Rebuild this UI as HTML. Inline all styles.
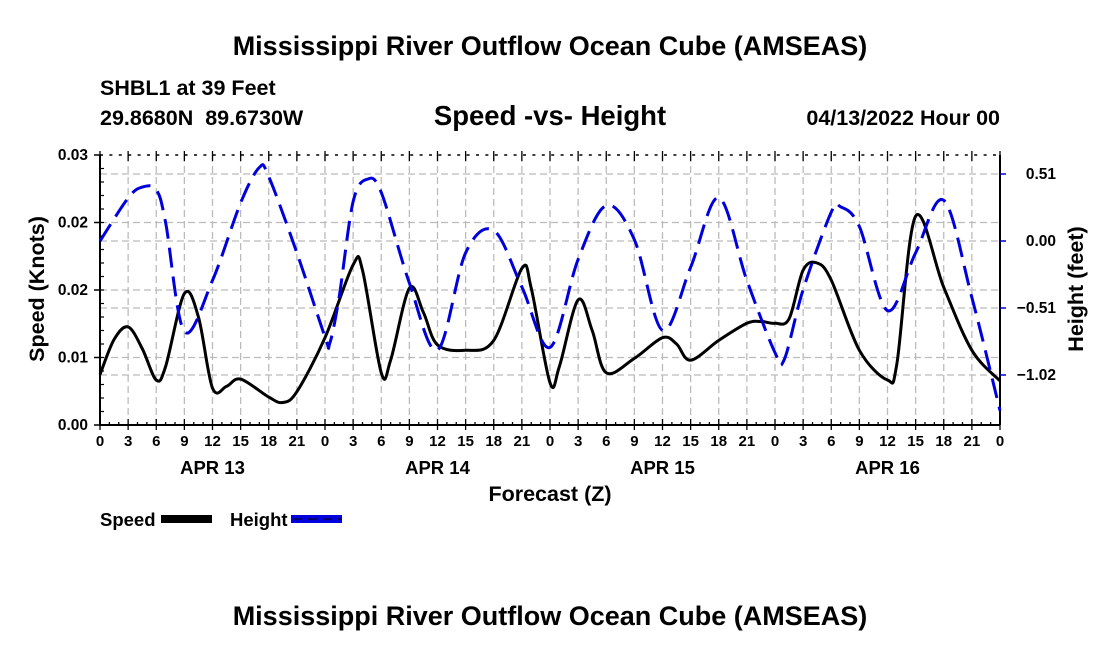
<!DOCTYPE html>
<html><head><meta charset="utf-8">
<style>
html,body{margin:0;padding:0;background:#fff;}
svg{display:block;font-family:"Liberation Sans",Arial,sans-serif;font-weight:bold;}
</style></head>
<body>
<svg id="chart" width="1100" height="650" viewBox="0 0 1100 650" xmlns="http://www.w3.org/2000/svg">
<text x="550" y="55" font-size="27" text-anchor="middle">Mississippi River Outflow Ocean Cube (AMSEAS)</text>
<text x="100" y="95" font-size="21.5">SHBL1 at 39 Feet</text>
<text x="100" y="125" font-size="21.5" xml:space="preserve" style="white-space:pre">29.8680N  89.6730W</text>
<text x="550" y="125" font-size="27.5" text-anchor="middle">Speed -vs- Height</text>
<text x="1000" y="125" font-size="21.5" text-anchor="end">04/13/2022 Hour 00</text>
<g id="grid"></g>
<g id="axes"></g>
<g id="series"></g>
<text transform="translate(44,289) rotate(-90)" font-size="21.5" text-anchor="middle">Speed (Knots)</text>
<text transform="translate(1083,289) rotate(-90)" font-size="21.5" text-anchor="middle">Height (feet)</text>
<text x="550" y="501" font-size="21.5" text-anchor="middle">Forecast (Z)</text>
<g>
<text x="100" y="526" font-size="18.5">Speed</text>
<rect x="161" y="515" width="51" height="8" fill="#000"/>
<text x="230" y="526" font-size="18.5">Height</text>
<rect x="291" y="515" width="51" height="8" fill="#0000dd"/>
<line x1="293" y1="519" x2="342" y2="519" stroke="#000055" stroke-width="1.5" stroke-dasharray="9,6"/>
</g>
<text x="550" y="625" font-size="27" text-anchor="middle">Mississippi River Outflow Ocean Cube (AMSEAS)</text>
</svg>
<script>
const speedHours=[0,1.5,3,4.5,6,7,9,10.5,12,13.5,15,18,19.5,21,24,27,28,30,31,33,34.5,36,39,42,45,46,48,49,51,52.5,54,57,60,61.5,63,66,69,70.5,72,73.5,75,76.5,78,81,84,85,87,90,93,96];
const speedValues=[0.0056,0.0095,0.0109,0.0085,0.005,0.0065,0.0146,0.012,0.0041,0.0043,0.0051,0.0031,0.0025,0.0037,0.0097,0.0178,0.0172,0.0058,0.0072,0.0152,0.0125,0.0089,0.0083,0.0094,0.0174,0.0152,0.0047,0.0065,0.0139,0.0105,0.0058,0.0074,0.0097,0.009,0.0072,0.0094,0.0113,0.0115,0.0113,0.0118,0.0172,0.018,0.0161,0.0083,0.005,0.0068,0.0232,0.0153,0.0083,0.0049];
const heightHours=[0,3,4.5,6,7,9,12,15,17,18,21,24,24.5,25.5,27,28.5,30,33,36,39,42,45,48,51,54,57,60,63,66,69,72,73,75,78,79,81,84,87,90,93,96];
const heightValues=[0.0,0.327,0.41,0.39,0.14,-0.69,-0.30,0.29,0.56,0.49,-0.09,-0.73,-0.78,-0.43,0.30,0.47,0.37,-0.32,-0.83,-0.09,0.08,-0.35,-0.81,-0.14,0.27,0.01,-0.68,-0.20,0.33,-0.30,-0.85,-0.90,-0.37,0.22,0.26,0.11,-0.53,-0.09,0.31,-0.43,-1.29];
const speedTickValues=[0,0.0075,0.015,0.0225,0.03];
const speedTickLabels=["0.00","0.01","0.02","0.02","0.03"];
const heightTickValues=[0.51,0,-0.51,-1.02];
const heightTickLabels=["0.51","0.00","\u22120.51","\u22121.02"];
const hourTicks=[0,3,6,9,12,15,18,21];
const dayLabels=["APR 13","APR 14","APR 15","APR 16"];

const L=100,R=1000,T=155,B=425;
const xs=h=>L+h*(R-L)/96;
const ys=v=>B-v*(B-T)/0.03;
const yh=v=>241-v*67/0.51;
const NS="http://www.w3.org/2000/svg";
function mk(tag,attrs,parent){const e=document.createElementNS(NS,tag);for(const k in attrs)e.setAttribute(k,attrs[k]);parent.appendChild(e);return e;}
const grid=document.getElementById('grid'),axes=document.getElementById('axes'),series=document.getElementById('series');

for(let h=3;h<96;h+=3){const g=mk('line',{x1:xs(h),x2:xs(h),y1:T,y2:B,stroke:'#bbb','stroke-width':1.3,'stroke-dasharray':'7,4'},grid);

}
speedTickValues.slice(1,4).forEach(v=>{const g=mk('line',{x1:L,x2:R,y1:ys(v),y2:ys(v),stroke:'#bbb','stroke-width':1.3,'stroke-dasharray':'7,4'},grid);

});
heightTickValues.forEach(v=>{const g=mk('line',{x1:L,x2:R,y1:yh(v),y2:yh(v),stroke:'#bbb','stroke-width':1.3,'stroke-dasharray':'7,4'},grid);

});

let a=mk('line',{x1:L,x2:L,y1:T,y2:B,stroke:'#000','stroke-width':2},axes);

a=mk('line',{x1:R,x2:R,y1:T,y2:B,stroke:'#000','stroke-width':2},axes);

a=mk('line',{x1:L,x2:R,y1:B,y2:B,stroke:'#000','stroke-width':2},axes);

a=mk('line',{x1:L,x2:R,y1:T,y2:T,stroke:'#000','stroke-width':1.5,'stroke-dasharray':'3,6.4'},axes);

for(let h=0;h<=96;h+=1){const big=h%3===0;
mk('line',{x1:xs(h),x2:xs(h),y1:B,y2:B-(big?6:3),stroke:'#000','stroke-width':1.3},axes);
if(big){mk('line',{x1:xs(h),x2:xs(h),y1:T-4,y2:T+6,stroke:'#000','stroke-width':1.3},axes);
mk('line',{x1:xs(h),x2:xs(h),y1:B,y2:B+5,stroke:'#000','stroke-width':1.3},axes);
const t=mk('text',{x:xs(h),y:B+21,'font-size':15,'text-anchor':'middle'},axes);t.textContent=hourTicks[(h/3)%8];
}}
dayLabels.forEach((d,i)=>{const t=mk('text',{x:xs(24*i+12),y:B+49,'font-size':18.5,'text-anchor':'middle'},axes);t.textContent=d;
});
speedTickValues.forEach((v,i)=>{mk('line',{x1:L-6,x2:L,y1:ys(v),y2:ys(v),stroke:'#000','stroke-width':1.5},axes);
const t=mk('text',{x:L-12,y:ys(v)+5,'font-size':15.5,'text-anchor':'end'},axes);t.textContent=speedTickLabels[i];
});
for(let v=0.0015;v<0.03;v+=0.0015){mk('line',{x1:L,x2:L+4,y1:ys(v),y2:ys(v),stroke:'#000','stroke-width':1.2},axes);}
heightTickValues.forEach((v,i)=>{mk('line',{x1:R,x2:R+6,y1:yh(v),y2:yh(v),stroke:'#0000cc','stroke-width':1.5},axes);
const t=mk('text',{x:1056,y:yh(v)+5,'font-size':15.5,'text-anchor':'end'},axes);t.textContent=heightTickLabels[i];
});

function smooth(pts){let d=`M${pts[0][0]},${pts[0][1]}`;
for(let i=0;i<pts.length-1;i++){const p0=pts[i-1]||pts[i],p1=pts[i],p2=pts[i+1],p3=pts[i+2]||p2;
const c1=[p1[0]+(p2[0]-p0[0])/6,p1[1]+(p2[1]-p0[1])/6],c2=[p2[0]-(p3[0]-p1[0])/6,p2[1]-(p3[1]-p1[1])/6];
d+=`C${c1[0]},${c1[1]} ${c2[0]},${c2[1]} ${p2[0]},${p2[1]}`;}return d;}
const sp=mk('path',{d:smooth(speedHours.map((h,i)=>[xs(h),ys(speedValues[i])])),fill:'none',stroke:'#000','stroke-width':3},series);

const hp=mk('path',{d:smooth(heightHours.map((h,i)=>[xs(h),Math.min(B,yh(heightValues[i]))])),fill:'none',stroke:'#0000dd','stroke-width':3,'stroke-dasharray':'20,9'},series);

</script>
</body></html>
